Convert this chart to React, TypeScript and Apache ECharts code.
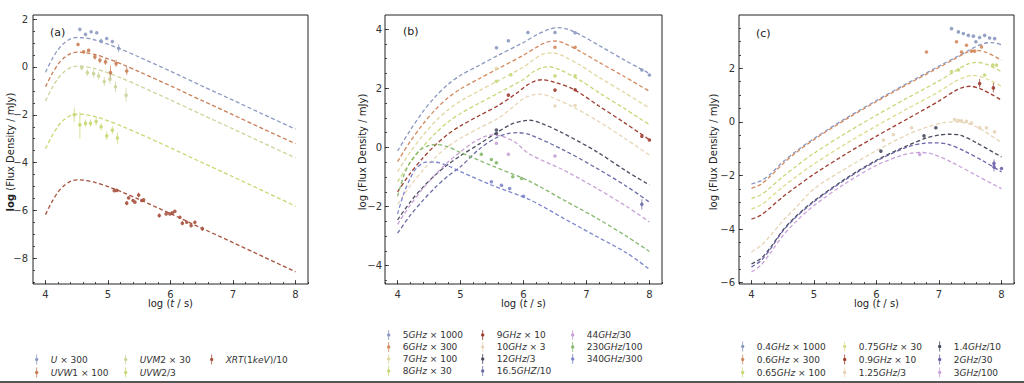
import React, { useEffect, useRef } from 'react';
import * as echarts from 'echarts';

type P = [number, number];
type E = [number, number, number];

const FONT = 'DejaVu Sans';

// ---------- ticks ----------
const X_TICKS = [4, 5, 6, 7, 8];
const A_Y_TICKS = [-8, -6, -4, -2, 0, 2];
const B_Y_TICKS = [-4, -2, 0, 2, 4];
const C_Y_TICKS = [-6, -4, -2, 0, 2];
const range = (a: number, b: number, s: number) => {
  const out: number[] = [];
  for (let k = 0; a + k * s <= b + 1e-9; k++) out.push(Math.round((a + k * s) * 100) / 100);
  return out;
};
const X_MINOR = range(3.8, 8.2, 0.2);
const A_Y_MINOR = range(-9, 2, 0.5);
const B_Y_MINOR = range(-4.5, 4.0, 0.5);
const C_Y_MINOR = range(-6, 3.5, 0.5);

// ---------- panel (a) ----------
const A_U_MODEL: P[] = [[4.0,-0.22],[4.1,0.3],[4.2,0.72],[4.3,1.0],[4.4,1.17],[4.5,1.23],[4.6,1.22],[4.8,1.12],[5.0,0.95],[5.2,0.75],[5.5,0.41],[6.0,-0.18],[6.5,-0.79],[7.0,-1.39],[7.5,-2.0],[8.0,-2.6]];
const A_UVW1_MODEL: P[] = [[4.0,-0.83],[4.1,-0.31],[4.2,0.11],[4.3,0.39],[4.4,0.56],[4.5,0.62],[4.6,0.61],[4.8,0.51],[5.0,0.34],[5.2,0.14],[5.5,-0.2],[6.0,-0.79],[6.5,-1.4],[7.0,-2.0],[7.5,-2.61],[8.0,-3.21]];
const A_UVM2_MODEL: P[] = [[4.0,-1.42],[4.1,-0.9],[4.2,-0.48],[4.3,-0.2],[4.4,-0.03],[4.5,0.03],[4.6,0.02],[4.8,-0.08],[5.0,-0.25],[5.2,-0.45],[5.5,-0.79],[6.0,-1.38],[6.5,-1.99],[7.0,-2.59],[7.5,-3.2],[8.0,-3.8]];
const A_UVW2_MODEL: P[] = [[4.0,-3.42],[4.1,-2.9],[4.2,-2.48],[4.3,-2.2],[4.4,-2.03],[4.5,-1.97],[4.6,-1.98],[4.8,-2.08],[5.0,-2.25],[5.2,-2.45],[5.5,-2.79],[6.0,-3.38],[6.5,-3.99],[7.0,-4.59],[7.5,-5.2],[8.0,-5.82]];
const A_XRT_MODEL: P[] = [[4.0,-6.17],[4.1,-5.65],[4.2,-5.23],[4.3,-4.95],[4.4,-4.78],[4.5,-4.72],[4.6,-4.73],[4.8,-4.83],[5.0,-5.0],[5.2,-5.2],[5.5,-5.54],[6.0,-6.13],[6.5,-6.74],[7.0,-7.34],[7.5,-7.95],[8.0,-8.56]];

const A_U_OBS: P[] = [[4.55,1.57],[4.64,1.36],[4.73,1.47],[4.82,1.43],[4.89,1.08],[4.98,1.19],[5.07,1.06],[5.17,0.78]];
const A_U_ERR: E[] = [[4.89,0.98,1.18],[5.17,0.62,0.95]];
const A_UVW1_OBS: P[] = [[4.52,0.94],[4.61,0.63],[4.69,0.69],[4.79,0.42],[4.87,0.28],[4.96,0.21],[5.04,-0.24],[5.13,0.14],[5.3,-0.17]];
const A_UVW1_ERR: E[] = [[4.79,0.3,0.54],[4.87,0.15,0.4],[4.96,0.08,0.34],[5.04,-0.55,0.05],[5.13,0.0,0.3],[5.3,-0.33,0.0]];
const A_UVM2_OBS: P[] = [[4.58,-0.03],[4.67,-0.24],[4.77,-0.28],[4.85,-0.38],[4.94,-0.61],[5.03,-0.51],[5.12,-0.83],[5.29,-1.18]];
const A_UVM2_ERR: E[] = [[4.58,-0.15,0.08],[4.67,-0.38,-0.1],[4.77,-0.45,-0.12],[4.85,-0.52,-0.22],[4.94,-0.8,-0.42],[5.03,-0.7,-0.3],[5.12,-1.05,-0.6],[5.29,-1.45,-0.88]];
const A_UVW2_OBS: P[] = [[4.46,-2.0],[4.55,-2.42],[4.64,-2.36],[4.72,-2.36],[4.81,-2.28],[4.89,-2.5],[4.98,-2.88],[5.07,-2.64],[5.15,-2.97]];
const A_UVW2_ERR: E[] = [[4.46,-2.3,-1.7],[4.55,-3.0,-1.9],[4.64,-2.5,-2.2],[4.72,-2.5,-2.2],[4.81,-2.45,-2.1],[4.89,-2.65,-2.35],[4.98,-3.05,-2.7],[5.07,-2.8,-2.48],[5.15,-3.2,-2.75]];
const A_XRT_OBS: P[] = [[5.1,-5.17],[5.14,-5.16],[5.3,-5.69],[5.33,-5.47],[5.4,-5.58],[5.43,-5.65],[5.49,-5.35],[5.54,-5.58],[5.57,-5.55],[5.82,-6.21],[5.93,-6.14],[5.99,-6.14],[6.03,-6.1],[6.07,-6.03],[6.15,-6.28],[6.19,-6.53],[6.26,-6.49],[6.33,-6.63],[6.39,-6.49],[6.51,-6.76]];
const A_XRT_ERR: E[] = [[5.3,-5.78,-5.6],[5.49,-5.45,-5.25],[5.82,-6.3,-6.12],[6.19,-6.62,-6.44],[6.51,-6.86,-6.66]];

// ---------- panel (b) ----------
const B_5_MODEL: P[] = [[4,-0.12],[4.2,0.58],[4.4,1.2],[4.6,1.72],[4.8,2.13],[5.0,2.44],[5.3,2.78],[5.6,3.12],[6.0,3.55],[6.2,3.8],[6.4,3.99],[6.55,4.05],[6.7,4.0],[6.9,3.81],[7.2,3.45],[7.6,2.96],[8,2.5]];
const B_6_MODEL: P[] = [[4,-0.48],[4.2,0.2],[4.4,0.78],[4.6,1.28],[4.8,1.68],[5.0,1.98],[5.3,2.33],[5.6,2.67],[6.0,3.12],[6.2,3.38],[6.35,3.55],[6.5,3.6],[6.65,3.52],[6.9,3.25],[7.2,2.88],[7.6,2.4],[8,1.9]];
const B_7_MODEL: P[] = [[4,-0.82],[4.2,-0.16],[4.4,0.4],[4.6,0.88],[4.8,1.27],[5.0,1.57],[5.3,1.92],[5.6,2.26],[6.0,2.72],[6.15,2.95],[6.3,3.15],[6.45,3.2],[6.6,3.12],[6.9,2.78],[7.2,2.37],[7.6,1.86],[8,1.33]];
const B_8_MODEL: P[] = [[4,-1.16],[4.2,-0.52],[4.4,0.02],[4.6,0.48],[4.8,0.86],[5.0,1.15],[5.3,1.5],[5.6,1.84],[6.0,2.3],[6.15,2.55],[6.3,2.7],[6.4,2.73],[6.55,2.65],[6.9,2.27],[7.2,1.85],[7.6,1.32],[8,0.77]];
const B_9_MODEL: P[] = [[4,-1.5],[4.2,-0.88],[4.4,-0.36],[4.6,0.08],[4.8,0.45],[5.0,0.73],[5.3,1.08],[5.6,1.42],[5.9,1.85],[6.05,2.1],[6.2,2.26],[6.3,2.29],[6.5,2.2],[6.8,1.96],[7.2,1.4],[7.6,0.84],[8,0.26]];
const B_10_MODEL: P[] = [[4,-1.92],[4.2,-1.3],[4.4,-0.78],[4.6,-0.34],[4.8,0.03],[5.0,0.31],[5.3,0.66],[5.6,0.99],[5.85,1.4],[6.0,1.65],[6.15,1.78],[6.25,1.8],[6.4,1.74],[6.8,1.35],[7.2,0.87],[7.6,0.32],[8,-0.26]];
const B_12_MODEL: P[] = [[4,-2.45],[4.2,-1.85],[4.4,-1.35],[4.6,-0.93],[4.8,-0.58],[5.0,-0.28],[5.3,0.12],[5.56,0.48],[5.8,0.78],[6.0,0.9],[6.1,0.92],[6.3,0.8],[6.63,0.48],[7.16,-0.14],[7.64,-0.81],[8,-1.27]];
const B_165_MODEL: P[] = [[4,-2.9],[4.2,-2.3],[4.4,-1.8],[4.6,-1.35],[4.8,-0.97],[5.0,-0.65],[5.3,-0.05],[5.56,0.32],[5.75,0.47],[5.9,0.5],[6.1,0.43],[6.63,-0.08],[7.16,-0.7],[7.64,-1.32],[8,-1.85]];
const B_44_MODEL: P[] = [[4,-2.6],[4.2,-1.95],[4.4,-1.4],[4.6,-0.92],[4.8,-0.5],[5.0,-0.15],[5.2,0.17],[5.4,0.38],[5.5,0.42],[5.65,0.38],[5.85,0.2],[6.1,-0.23],[6.63,-0.76],[7.16,-1.38],[7.64,-2.0],[8,-2.52]];
const B_230_MODEL: P[] = [[4,-1.65],[4.1,-0.95],[4.2,-0.5],[4.35,-0.1],[4.5,0.07],[4.62,0.1],[4.8,0.02],[5.0,-0.17],[5.5,-0.62],[6.1,-1.15],[6.63,-1.77],[7.16,-2.39],[7.64,-3.01],[8,-3.52]];
const B_340_MODEL: P[] = [[4,-2.25],[4.1,-1.55],[4.2,-1.05],[4.3,-0.7],[4.45,-0.5],[4.6,-0.5],[4.8,-0.62],[5.0,-0.82],[5.5,-1.28],[6.1,-1.77],[6.63,-2.39],[7.16,-3.01],[7.64,-3.57],[8,-4.12]];

const B_5_OBS: P[] = [[5.57,3.37],[5.76,3.61],[6.07,3.89],[6.5,3.89],[6.82,3.88],[7.88,2.62],[8.0,2.45]];
const B_6_OBS: P[] = [[6.5,3.39],[6.82,3.39]];
const B_7_OBS: P[] = [[5.57,2.67]];
const B_8_OBS: P[] = [[5.57,2.24],[5.8,2.46],[6.5,2.42],[6.82,2.42]];
const B_9_OBS: P[] = [[5.76,1.77],[6.5,1.94],[6.82,1.95],[7.88,0.38],[8.0,0.25]];
const B_10_OBS: P[] = [[6.5,1.4],[6.82,1.42]];
const B_12_OBS: P[] = [[5.57,0.59],[5.57,0.47]];
const B_165_OBS: P[] = [[7.88,-1.92]];
const B_165_ERR: E[] = [[7.88,-2.1,-1.75]];
const B_44_OBS: P[] = [[5.57,0.14],[5.76,-0.23],[6.5,-0.29]];
const B_230_OBS: P[] = [[5.33,-0.23],[5.49,-0.41],[5.57,-0.52],[5.83,-0.99],[5.97,-1.05]];
const B_340_OBS: P[] = [[5.49,-1.16],[5.65,-1.28],[5.78,-1.39],[6.0,-1.65]];

// ---------- panel (c) ----------
const C_04_MODEL: P[] = [[4,-2.32],[4.15,-2.2],[4.3,-1.95],[4.5,-1.5],[4.7,-1.12],[5.0,-0.62],[5.5,0.12],[6.0,0.8],[6.5,1.45],[7.0,2.08],[7.3,2.45],[7.5,2.7],[7.7,2.92],[7.85,2.96],[8,2.88]];
const C_06_MODEL: P[] = [[4,-2.48],[4.15,-2.33],[4.3,-2.03],[4.5,-1.57],[4.7,-1.17],[5.0,-0.66],[5.5,0.08],[6.0,0.76],[6.5,1.41],[7.0,2.03],[7.25,2.35],[7.45,2.6],[7.6,2.67],[7.75,2.6],[8,2.3]];
const C_065_MODEL: P[] = [[4,-2.86],[4.15,-2.72],[4.3,-2.45],[4.5,-2.05],[4.7,-1.68],[5.0,-1.17],[5.5,-0.43],[6.0,0.25],[6.5,0.9],[7.0,1.53],[7.25,1.88],[7.45,2.15],[7.6,2.22],[7.75,2.16],[8,1.87]];
const C_075_MODEL: P[] = [[4,-3.25],[4.15,-3.1],[4.3,-2.83],[4.5,-2.43],[4.7,-2.07],[5.0,-1.57],[5.5,-0.83],[6.0,-0.15],[6.5,0.5],[7.0,1.13],[7.25,1.5],[7.45,1.7],[7.55,1.74],[7.75,1.62],[8,1.33]];
const C_09_MODEL: P[] = [[4,-3.63],[4.15,-3.48],[4.3,-3.2],[4.5,-2.8],[4.7,-2.45],[5.0,-1.95],[5.5,-1.21],[6.0,-0.53],[6.5,0.12],[7.0,0.78],[7.25,1.15],[7.4,1.3],[7.5,1.33],[7.7,1.2],[8,0.81]];
const C_125_MODEL: P[] = [[4,-4.85],[4.15,-4.62],[4.3,-4.25],[4.5,-3.7],[4.7,-3.22],[5.0,-2.5],[5.5,-1.75],[6.0,-1.07],[6.5,-0.47],[6.8,-0.2],[7.05,-0.04],[7.25,0.0],[7.4,-0.03],[7.6,-0.18],[8,-0.77]];
const C_14_MODEL: P[] = [[4,-5.3],[4.15,-5.1],[4.3,-4.7],[4.5,-4.05],[4.7,-3.55],[5.0,-2.95],[5.5,-2.13],[6.0,-1.43],[6.5,-0.88],[6.8,-0.6],[7.0,-0.49],[7.17,-0.46],[7.35,-0.5],[7.6,-0.78],[8,-1.31]];
const C_2_MODEL: P[] = [[4,-5.42],[4.15,-5.18],[4.3,-4.75],[4.5,-4.08],[4.7,-3.58],[5.0,-2.98],[5.5,-2.16],[6.0,-1.46],[6.5,-0.93],[6.75,-0.8],[6.95,-0.78],[7.15,-0.84],[7.4,-1.08],[7.7,-1.45],[8,-1.87]];
const C_3_MODEL: P[] = [[4,-5.6],[4.15,-5.35],[4.3,-4.9],[4.5,-4.25],[4.7,-3.75],[5.0,-3.12],[5.5,-2.3],[6.0,-1.62],[6.4,-1.25],[6.6,-1.15],[6.7,-1.14],[6.9,-1.2],[7.2,-1.5],[7.6,-2.0],[8,-2.49]];

const C_04_OBS: P[] = [[7.2,3.48],[7.31,3.36],[7.39,3.3],[7.47,3.23],[7.55,3.2],[7.59,2.99],[7.65,3.15],[7.73,3.23],[7.81,3.13],[7.89,3.11]];
const C_06_OBS: P[] = [[6.8,2.61],[7.28,2.99],[7.36,2.61],[7.44,2.86],[7.52,2.64],[7.57,2.64],[7.68,2.8]];
const C_065_OBS: P[] = [[7.2,1.88],[7.31,1.94],[7.73,1.75],[7.86,2.12],[7.92,2.12]];
const C_075_OBS: P[] = [];
const C_09_OBS: P[] = [[7.65,1.43],[7.87,1.27]];
const C_09_ERR: E[] = [[7.65,1.28,1.6],[7.87,1.1,1.45]];
const C_125_OBS: P[] = [[6.11,-0.68],[6.27,-0.47],[6.56,-0.22],[7.25,0.09],[7.31,0.05],[7.36,0.04],[7.44,0.02],[7.52,-0.04],[7.65,-0.22],[7.76,-0.22],[7.89,-0.37]];
const C_14_OBS: P[] = [[6.07,-1.09],[6.76,-0.52],[6.95,-0.22]];
const C_2_OBS: P[] = [[7.88,-1.55],[7.88,-1.68],[8.0,-1.74]];
const C_2_ERR: E[] = [[7.88,-1.85,-1.4]];
const C_3_OBS: P[] = [[6.69,-1.21]];

type Band = { name: string; label: string; color: string; model: P[]; obs: P[]; err: E[] };

const PANEL_A: Band[] = [
  { name: 'U×300', label: '{i|U} × 300', color: '#8e9bc2', model: A_U_MODEL, obs: A_U_OBS, err: A_U_ERR },
  { name: 'UVW1×100', label: '{i|UVW}1 × 100', color: '#c97d55', model: A_UVW1_MODEL, obs: A_UVW1_OBS, err: A_UVW1_ERR },
  { name: 'UVM2×30', label: '{i|UVM}2 × 30', color: '#cdd49a', model: A_UVM2_MODEL, obs: A_UVM2_OBS, err: A_UVM2_ERR },
  { name: 'UVW2/3', label: '{i|UVW}2/3', color: '#c6d872', model: A_UVW2_MODEL, obs: A_UVW2_OBS, err: A_UVW2_ERR },
  { name: 'XRT/10', label: '{i|XRT}(1{i|keV})/10', color: '#a8533f', model: A_XRT_MODEL, obs: A_XRT_OBS, err: A_XRT_ERR },
];
const PANEL_B: Band[] = [
  { name: '5GHz', label: '5{i|GHz} × 1000', color: '#8a98bf', model: B_5_MODEL, obs: B_5_OBS, err: [] },
  { name: '6GHz', label: '6{i|GHz} × 300', color: '#d3895e', model: B_6_MODEL, obs: B_6_OBS, err: [] },
  { name: '7GHz', label: '7{i|GHz} × 100', color: '#e0d79e', model: B_7_MODEL, obs: B_7_OBS, err: [] },
  { name: '8GHz', label: '8{i|GHz} × 30', color: '#c6d878', model: B_8_MODEL, obs: B_8_OBS, err: [] },
  { name: '9GHz', label: '9{i|GHz} × 10', color: '#9e3d30', model: B_9_MODEL, obs: B_9_OBS, err: [] },
  { name: '10GHz', label: '10{i|GHz} × 3', color: '#e8d5b6', model: B_10_MODEL, obs: B_10_OBS, err: [] },
  { name: '12GHz', label: '12{i|GHz}/3', color: '#4b4f60', model: B_12_MODEL, obs: B_12_OBS, err: [] },
  { name: '16.5GHz', label: '16.5{i|GHZ}/10', color: '#6a6da6', model: B_165_MODEL, obs: B_165_OBS, err: B_165_ERR },
  { name: '44GHz', label: '44{i|GHz}/30', color: '#c6a0d6', model: B_44_MODEL, obs: B_44_OBS, err: [] },
  { name: '230GHz', label: '230{i|GHz}/100', color: '#86b86e', model: B_230_MODEL, obs: B_230_OBS, err: [] },
  { name: '340GHz', label: '340{i|GHz}/300', color: '#7c85cc', model: B_340_MODEL, obs: B_340_OBS, err: [] },
];
const PANEL_C: Band[] = [
  { name: '0.4GHz', label: '0.4{i|GHz} × 1000', color: '#8a98bf', model: C_04_MODEL, obs: C_04_OBS, err: [] },
  { name: '0.6GHz', label: '0.6{i|GHz} × 300', color: '#d3895e', model: C_06_MODEL, obs: C_06_OBS, err: [] },
  { name: '0.65GHz', label: '0.65{i|GHz} × 100', color: '#c6d878', model: C_065_MODEL, obs: C_065_OBS, err: [] },
  { name: '0.75GHz', label: '0.75{i|GHz} × 30', color: '#dcdc8c', model: C_075_MODEL, obs: C_075_OBS, err: [] },
  { name: '0.9GHz', label: '0.9{i|GHz} × 10', color: '#9e3d30', model: C_09_MODEL, obs: C_09_OBS, err: C_09_ERR },
  { name: '1.25GHz', label: '1.25{i|GHz}/3', color: '#e5d3b2', model: C_125_MODEL, obs: C_125_OBS, err: [] },
  { name: '1.4GHz', label: '1.4{i|GHz}/10', color: '#474c5c', model: C_14_MODEL, obs: C_14_OBS, err: [] },
  { name: '2GHz', label: '2{i|GHz}/30', color: '#6c63a8', model: C_2_MODEL, obs: C_2_OBS, err: C_2_ERR },
  { name: '3GHz', label: '3{i|GHz}/100', color: '#c9a2da', model: C_3_MODEL, obs: C_3_OBS, err: [] },
];

const GRIDS = [
  { left: 33, top: 15, width: 275, height: 269, yMin: -9.07, yMax: 2.17, yTicks: A_Y_TICKS, yMinor: A_Y_MINOR, labMargin: 5 },
  { left: 385, top: 15, width: 277, height: 269, yMin: -4.62, yMax: 4.48, yTicks: B_Y_TICKS, yMinor: B_Y_MINOR, labMargin: 3 },
  { left: 739, top: 15, width: 275, height: 269, yMin: -6.05, yMax: 3.99, yTicks: C_Y_TICKS, yMinor: C_Y_MINOR, labMargin: 4 },
];

const Y_NAMES = [
  { text: '{b|log} (Flux Density / mJy)', x: 10, y: 152 },
  { text: 'log (Flux Density / mJy)', x: 362, y: 152 },
  { text: 'log (Flux Density / mJy)', x: 713, y: 152 },
];

const LEGEND_COLS = [
  { panel: PANEL_A, cols: [[0, 1], [2, 3], [4]], lefts: [35, 124, 210], top: 354, gap: 2 },
  { panel: PANEL_B, cols: [[0, 1, 2, 3], [4, 5, 6, 7], [8, 9, 10]], lefts: [387, 481, 571], top: 329.5, gap: 1 },
  { panel: PANEL_C, cols: [[0, 1, 2], [3, 4, 5], [6, 7, 8]], lefts: [741, 843, 938], top: 341, gap: 2 },
];

const ICON = 'path://M3.6,0h0.8v10h-0.8z M4,3.3a1.7,1.7 0 1,1 0,3.4a1.7,1.7 0 1,1 0,-3.4z';
const fmtNum = (v: number) => String(v).replace('-', '\u2212');

function buildOption() {
  const xAxis: any[] = [];
  const yAxis: any[] = [];
  const series: any[] = [];
  const legend: any[] = [];
  const labelMap: Record<string, string> = {};
  const panels = [PANEL_A, PANEL_B, PANEL_C];

  GRIDS.forEach((g, i) => {
    const tickStyle = { color: '#222', width: 0.8 };
    xAxis.push({
      type: 'value', gridIndex: i, min: 3.8, max: 8.2, position: 'bottom',
      axisLine: { show: false, onZero: false }, splitLine: { show: false },
      axisTick: { show: true, inside: true, length: 2, customValues: X_MINOR, lineStyle: tickStyle },
      axisLabel: { customValues: X_TICKS, color: '#333', fontSize: 10, fontFamily: FONT, margin: 5, formatter: fmtNum },
      name: 'log ({i|t} / s)', nameLocation: 'middle', nameGap: 14, nameMoveOverlap: false,
      nameTextStyle: { fontSize: 10, color: '#222', fontFamily: FONT, verticalAlign: 'top', rich: { i: { fontStyle: 'italic', fontSize: 10, fontFamily: FONT, color: '#222' } } },
    });
    xAxis.push({
      type: 'value', gridIndex: i, min: 3.8, max: 8.2, position: 'bottom', offset: 0,
      axisLine: { show: false, onZero: false }, splitLine: { show: false },
      axisTick: { show: true, inside: true, length: 4, customValues: X_TICKS, lineStyle: tickStyle },
      axisLabel: { show: false },
    });
    yAxis.push({
      type: 'value', gridIndex: i, min: g.yMin, max: g.yMax, position: 'left',
      axisLine: { show: false, onZero: false }, splitLine: { show: false },
      axisTick: { show: true, inside: true, length: 2, customValues: g.yMinor, lineStyle: tickStyle },
      axisLabel: { customValues: g.yTicks, color: '#333', fontSize: 10, fontFamily: FONT, margin: g.labMargin, formatter: fmtNum },
    });
    yAxis.push({
      type: 'value', gridIndex: i, min: g.yMin, max: g.yMax, position: 'left', offset: 0,
      axisLine: { show: false, onZero: false }, splitLine: { show: false },
      axisTick: { show: true, inside: true, length: 4, customValues: g.yTicks, lineStyle: tickStyle },
      axisLabel: { show: false },
    });

    panels[i].forEach((b) => {
      labelMap[b.name] = b.label;
      series.push({
        type: 'line', name: b.name, xAxisIndex: 2 * i, yAxisIndex: 2 * i, data: b.model,
        smooth: 0.3, showSymbol: false, silent: true, z: 2,
        lineStyle: { color: b.color, width: 1.3, type: [4, 2.5] }, itemStyle: { color: b.color },
      });
      if (b.err.length) {
        const col = b.color;
        series.push({
          type: 'custom', name: b.name, xAxisIndex: 2 * i, yAxisIndex: 2 * i, data: b.err, z: 3,
          encode: { x: 0, y: [1, 2] }, itemStyle: { color: col },
          renderItem: (_p: any, api: any) => {
            const p1 = api.coord([api.value(0), api.value(1)]);
            const p2 = api.coord([api.value(0), api.value(2)]);
            return { type: 'line', shape: { x1: p1[0], y1: p1[1], x2: p2[0], y2: p2[1] }, style: { stroke: col, lineWidth: 1, opacity: 0.75 } };
          },
        });
      }
      series.push({
        type: 'scatter', name: b.name, xAxisIndex: 2 * i, yAxisIndex: 2 * i, data: b.obs, z: 4,
        symbolSize: 3.6, itemStyle: { color: b.color, opacity: 0.9 },
      });
    });
  });

  LEGEND_COLS.forEach((lc) => {
    lc.cols.forEach((idxs, ci) => {
      legend.push({
        orient: 'vertical', left: lc.lefts[ci], top: lc.top, padding: 0, itemGap: lc.gap,
        itemWidth: 18, itemHeight: 10, selectedMode: false,
        data: idxs.map((k) => ({ name: lc.panel[k].name, icon: ICON, itemStyle: { color: lc.panel[k].color } })),
        formatter: (n: string) => labelMap[n] || n,
        textStyle: {
          fontSize: 9, color: '#333', fontFamily: FONT, lineHeight: 11,
          rich: { i: { fontStyle: 'italic', fontSize: 9, color: '#333', fontFamily: FONT, lineHeight: 11 } },
        },
      });
    });
  });

  const graphic: any[] = Y_NAMES.map((n) => ({
    type: 'text', x: n.x, y: n.y, rotation: Math.PI / 2, silent: true,
    style: {
      text: n.text, fill: '#222', fontSize: 10, fontFamily: FONT, align: 'center', verticalAlign: 'middle',
      rich: { b: { fontWeight: 'bold', fontSize: 10, fontFamily: FONT, fill: '#222' } },
    },
  }));
  graphic.push({ type: 'rect', shape: { x: 0, y: 381, width: 1024, height: 2 }, style: { fill: '#555' } });

  return {
    animation: false,
    backgroundColor: '#ffffff',
    textStyle: { fontFamily: FONT },
    title: [
      { text: '(a)', left: 45, top: 22, textStyle: { fontSize: 11, fontWeight: 'normal', color: '#222', fontFamily: FONT } },
      { text: '(b)', left: 398, top: 21, textStyle: { fontSize: 11, fontWeight: 'normal', color: '#222', fontFamily: FONT } },
      { text: '(c)', left: 751, top: 23, textStyle: { fontSize: 11, fontWeight: 'normal', color: '#222', fontFamily: FONT } },
    ],
    grid: GRIDS.map((g) => ({ left: g.left, top: g.top, width: g.width, height: g.height, show: true, borderColor: '#222', borderWidth: 1, backgroundColor: 'transparent' })),
    xAxis, yAxis, legend, series, graphic,
  };
}

export default function App() {
  const ref = useRef<HTMLDivElement>(null);
  useEffect(() => {
    if (!ref.current) return;
    const chart = echarts.init(ref.current, undefined, { renderer: 'svg' });
    chart.setOption(buildOption() as any);
    return () => chart.dispose();
  }, []);
  return <div ref={ref} style={{ position: 'fixed', left: 0, top: 0, width: 1024, height: 383, background: '#fff' }} />;
}
